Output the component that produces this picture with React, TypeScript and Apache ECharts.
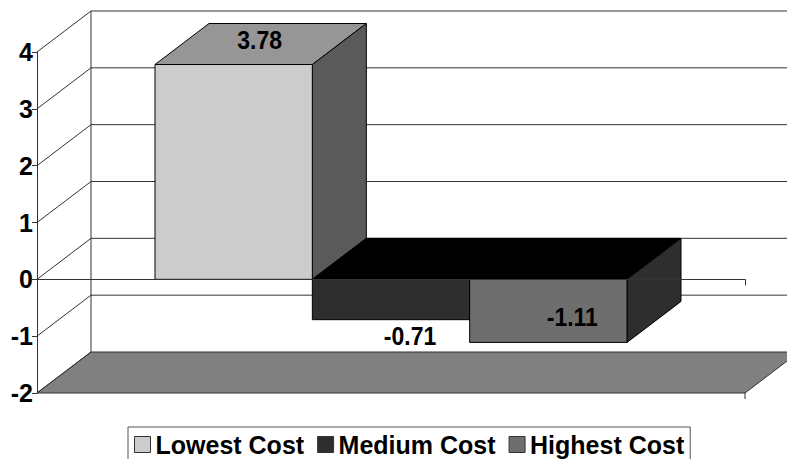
import React, { useEffect, useRef } from "react";
import * as echarts from "echarts";

// Series shown in the single category cluster
const SERIES_NAMES = ["Lowest Cost", "Medium Cost", "Highest Cost"];
const SERIES_VALUES = [3.78, -0.71, -1.11];
const Y_TICKS = [-2, -1, 0, 1, 2, 3, 4];

const Y_MIN = -2;
const Y_MAX = 4;
// x is measured in bar widths: gap | bar | bar | bar | gap
const GAP = 0.75;
const X_MAX = GAP * 2 + SERIES_NAMES.length;

// Oblique projection of the depth axis, in pixels
const DX = 54;
const DY = -41;

const FRONT = ["#cccccc", "#2e2e2e", "#6e6e6e"];
const TOP = ["#969696", "#000000", "#000000"];
const SIDE = ["#5a5a5a", "#1e1e1e", "#2e2e2e"];
// label offsets from (front centre, value end)
const LABEL_SHIFT = [
  [26, -24],
  [19, 16],
  [24, -25],
];

const FONT = '"Liberation Sans", Arial, sans-serif';
const LINE = "#333333";

const line = (x1: number, y1: number, x2: number, y2: number) => ({
  type: "line",
  shape: { x1, y1, x2, y2 },
  style: { stroke: LINE, lineWidth: 1 },
});

const renderWalls = (_params: any, api: any) => {
  const children: any[] = [];
  const [xL, yMin] = api.coord([0, Y_MIN]);
  const [xR] = api.coord([X_MAX, Y_MIN]);
  const [, yMax] = api.coord([0, Y_MAX]);

  // floor
  children.push({
    type: "polygon",
    shape: {
      points: [
        [xL, yMin],
        [xR, yMin],
        [xR + DX, yMin + DY],
        [xL + DX, yMin + DY],
      ],
    },
    style: { fill: "#808080", stroke: LINE, lineWidth: 1 },
  });

  Y_TICKS.forEach((v) => {
    const [, y] = api.coord([0, v]);
    // side wall gridline
    children.push(line(xL, y, xL + DX, y + DY));
    // back wall gridline
    if (v > Y_MIN) children.push(line(xL + DX, y + DY, xR + DX + 40, y + DY));
  });

  // back wall corner edge
  children.push(line(xL + DX, yMax + DY, xL + DX, yMin + DY));
  // tick under the floor's front right corner
  children.push(line(xR, yMin, xR, yMin + 6));

  return { type: "group", children };
};

const renderBar = (_params: any, api: any) => {
  const i = api.value(0);
  const v = api.value(1);
  const [xl, y0] = api.coord([GAP + i, 0]);
  const [xr, yv] = api.coord([GAP + i + 1, v]);
  const yTop = Math.min(y0, yv);
  const yBot = Math.max(y0, yv);
  const edge = { stroke: "#000", lineWidth: 1 };
  const [sx, sy] = LABEL_SHIFT[i];
  const lx = (xl + xr) / 2 + sx;
  const ly = yv + sy;

  return {
    type: "group",
    children: [
      {
        type: "polygon",
        shape: {
          points: [
            [xl, yTop],
            [xr, yTop],
            [xr + DX, yTop + DY],
            [xl + DX, yTop + DY],
          ],
        },
        style: { fill: TOP[i], ...edge },
      },
      {
        type: "polygon",
        shape: {
          points: [
            [xr, yTop],
            [xr + DX, yTop + DY],
            [xr + DX, yBot + DY],
            [xr, yBot],
          ],
        },
        style: { fill: SIDE[i], ...edge },
      },
      {
        type: "rect",
        shape: { x: xl, y: yTop, width: xr - xl, height: yBot - yTop },
        style: { fill: FRONT[i], ...edge },
      },
      {
        type: "text",
        z2: 10,
        x: lx,
        y: ly,
        scaleY: 1.1,
        style: {
          text: v.toFixed(2),
          x: 0,
          y: 0,
          align: "center",
          verticalAlign: "middle",
          fill: "#000",
          font: `bold 23px ${FONT}`,
        },
      },
    ],
  };
};

export default function App() {
  const ref = useRef<HTMLDivElement>(null);

  useEffect(() => {
    document.body.style.margin = "0";
    if (!ref.current) return;
    const chart = echarts.init(ref.current, undefined, { renderer: "svg" });

    const barSeries = SERIES_NAMES.map((name, i) => ({
      name,
      type: "custom",
      z: 3,
      clip: false,
      itemStyle: { color: FRONT[i] },
      encode: { x: 0, y: 1 },
      data: [[i, SERIES_VALUES[i]]],
      renderItem: renderBar,
    }));

    chart.setOption({
      animation: false,
      backgroundColor: "#ffffff",
      grid: {
        left: 37,
        right: 42,
        top: 52,
        bottom: 66,
        containLabel: false,
        outerBoundsMode: "none",
      },
      legend: {
        data: SERIES_NAMES,
        left: 128,
        top: 427,
        orient: "horizontal",
        icon: "rect",
        itemWidth: 16,
        itemHeight: 16,
        itemGap: 13,
        padding: [5, 6, 5, 6],
        borderColor: "#555",
        borderWidth: 1,
        borderRadius: 0,
        selectedMode: false,
        itemStyle: { borderColor: "#333", borderWidth: 1 },
        textStyle: {
          fontSize: 25,
          fontWeight: "bold",
          color: "#000",
          fontFamily: FONT,
        },
      },
      xAxis: {
        type: "value",
        min: 0,
        max: X_MAX,
        interval: X_MAX,
        z: 10,
        axisLine: { show: true, onZero: true, lineStyle: { color: LINE } },
        axisTick: { show: true, length: 6, lineStyle: { color: LINE } },
        axisLabel: { show: false },
        splitLine: { show: false },
      },
      yAxis: {
        type: "value",
        min: Y_MIN,
        max: Y_MAX,
        interval: 1,
        axisLine: { show: true, lineStyle: { color: LINE } },
        axisTick: { show: true, length: 5, lineStyle: { color: LINE } },
        axisLabel: {
          margin: 4,
          fontSize: 25,
          fontWeight: "bold",
          color: "#000",
          fontFamily: FONT,
        },
        splitLine: { show: false },
      },
      series: [
        {
          name: "walls",
          type: "custom",
          z: 1,
          clip: false,
          silent: true,
          encode: { x: 0, y: 1 },
          data: [[0, Y_MIN]],
          renderItem: renderWalls,
        },
        ...barSeries,
      ],
    });

    return () => chart.dispose();
  }, []);

  return <div ref={ref} style={{ width: 787, height: 459 }} />;
}
